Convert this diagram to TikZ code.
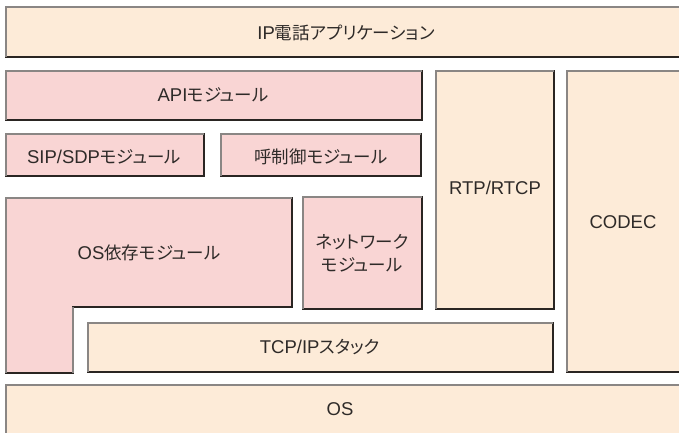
\documentclass[tikz,border=0pt]{standalone}
\usepackage{fontspec}
\setmainfont{Noto Sans CJK JP}[RawFeature=+palt]
\newfontfamily\latf{Liberation Sans}
\newcommand\lt[1]{{\latf\fontsize{18.5}{22}\selectfont #1}}
\definecolor{peach}{HTML}{FDEBD8}
\definecolor{pinkbox}{HTML}{F9D5D4}
\definecolor{edgedark}{HTML}{2A2522}
\definecolor{edgelight}{HTML}{8A8684}
\definecolor{txt}{HTML}{2E2A28}
\tikzset{
  box/.style={draw=edgedark, line width=1.1pt, inner sep=0pt, outer sep=0pt, anchor=north west},
  peachbox/.style={box, fill=peach},
  pinkb/.style={box, fill=pinkbox},
  hilite/.style={draw=edgelight, line width=1.1pt},
  lbl/.style={text=txt, font=\fontsize{17.5}{23}\selectfont, align=center, inner sep=0pt},
}
\begin{document}
\begin{tikzpicture}[x=1pt,y=-1pt]
\clip (0,0) rectangle (679,432);
\fill[white] (0,0) rectangle (679,432);
% boxes
\node[peachbox, minimum width=684pt, minimum height=50pt] (ip) at (6,7) {};
\node[pinkb, minimum width=416pt, minimum height=49pt] (api) at (6,71) {};
\node[pinkb, minimum width=198pt, minimum height=42pt] (sip) at (6,134) {};
\node[pinkb, minimum width=200pt, minimum height=42pt] (call) at (221,134) {};
\node[pinkb, minimum width=119pt, minimum height=112pt] (net) at (303,197) {};
\node[peachbox, minimum width=118pt, minimum height=238pt] (rtp) at (436,71) {};
\node[peachbox, minimum width=123pt, minimum height=301pt] (codec) at (567,71) {};
\node[peachbox, minimum width=465pt, minimum height=49pt] (tcp) at (88,323) {};
\node[peachbox, minimum width=684pt, minimum height=60pt] (os) at (6,385) {};
% L-shaped OS-dependent module
\filldraw[fill=pinkbox, draw=edgedark, line width=1.1pt]
  (6,198) -- (292,198) -- (292,307) -- (73,307) -- (73,373) -- (6,373) -- cycle;
\draw[hilite] (6,373) -- (6,198) -- (292,198);
\draw[hilite] (73,373) -- (73,307);
% lighter top/left edges
\foreach \n in {ip,api,sip,call,net,rtp,codec,tcp,os}
  \draw[hilite] (\n.south west) |- (\n.north east);
% labels
\node[lbl] (ipl) at (346,33) {\lt{IP}電話アプリケーション};
\node[lbl] (apil) at (213,95) {\lt{API}モジュール};
\node[lbl] (sipl) at (104,157) {\lt{SIP/SDP}モジュール};
\node[lbl] (calll) at (321,157) {呼制御モジュール};
\node[lbl] (osdepl) at (149,253) {\lt{OS}依存モジュール};
\node[lbl] (netl) at (362,253) {ネットワーク\\モジュール};
\node[lbl] (rtpl) at (495,188) {\lt{RTP/RTCP}};
\node[lbl] (codecl) at (623,222) {\lt{CODEC}};
\node[lbl] (tcpl) at (320,347) {\lt{TCP/IP}スタック};
\node[lbl] (osl) at (340,409) {\lt{OS}};
\end{tikzpicture}
\end{document}
